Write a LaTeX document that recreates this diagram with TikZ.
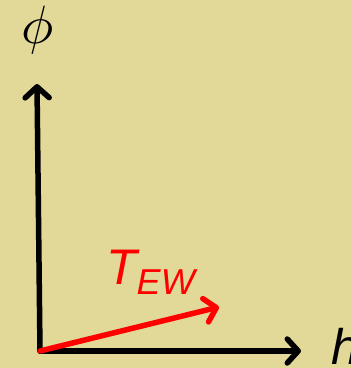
\documentclass[tikz,border=0pt]{standalone}
\usepackage{fontspec}
\newfontfamily\arialfont{Liberation Sans}
\usetikzlibrary{arrows.meta}
\definecolor{khaki}{RGB}{226,216,152}
\definecolor{vecred}{RGB}{255,0,0}
\tikzset{
  axisline/.style={line width=5.5pt,line cap=round,-{Straight Barb[length=11pt,width=24pt,line width=5.5pt,round]}},
  vecline/.style={axisline,draw=vecred},
  sanslabel/.style={inner sep=0pt,font=\arialfont\itshape\fontsize{50}{50}\selectfont}
}
\begin{document}
\begin{tikzpicture}[x=1pt,y=1pt]
\fill[khaki] (0,0) rectangle (351,368);
\useasboundingbox (0,0) rectangle (351,368);
% axes
\coordinate (origin) at (40,17);
\coordinate (ytop) at (37,284);
\coordinate (xend) at (301,17);
\coordinate (vtip) at (219,61);
\draw[axisline] (origin) -- (ytop);
\draw[axisline] (origin) -- (xend);
\draw[vecline] (origin) -- (vtip);
% labels
\node[inner sep=0pt,scale=5.4] (phi) at (38,338) {$\phi$};
\node[sanslabel,anchor=base west] (h) at (331,3) {h};
\node[sanslabel,text=vecred,anchor=base west] (tew) at (106,84) {T\raisebox{-10pt}{\fontsize{36}{36}\selectfont EW}};
\end{tikzpicture}
\end{document}
